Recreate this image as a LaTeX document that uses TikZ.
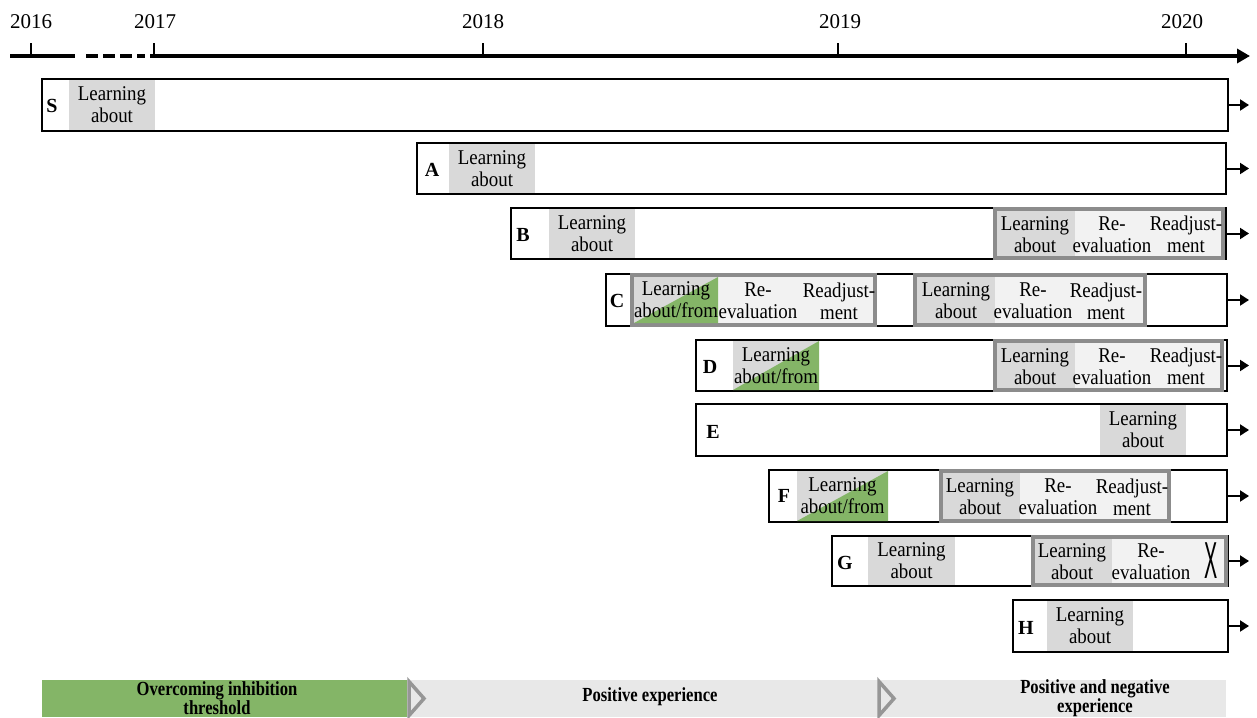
\documentclass[tikz,border=0pt]{standalone}
\usepackage{fontspec}
\setmainfont{Liberation Serif}
\newfontfamily\cellserif[FakeStretch=0.9]{Liberation Serif}
\newfontfamily\bandserif[FakeStretch=0.83]{Liberation Serif}
\newfontfamily\crossserif[FakeStretch=0.38]{Liberation Sans}
\usetikzlibrary{arrows.meta,fit}

\definecolor{cellgray}{RGB}{217,217,217}
\definecolor{celllight}{RGB}{242,242,242}
\definecolor{grpgray}{RGB}{140,140,140}
\definecolor{chevgray}{RGB}{150,150,150}
\definecolor{phasegreen}{RGB}{132,181,103}
\definecolor{phasegray}{RGB}{232,232,232}

\newcommand\cellsty{\cellserif\fontsize{21}{22}\selectfont}
\newcommand\bandsty{\bandserif\bfseries\fontsize{20}{19}\selectfont}

\tikzset{
  rowbox/.style={draw=black, line width=1.6pt, fill=white, inner sep=0pt, outer sep=0pt},
  rowlab/.style={font=\bfseries\fontsize{20}{20}\selectfont, inner sep=0pt},
  gcell/.style={fill=cellgray, inner sep=0pt, outer sep=0pt},
  dcell/.style={fill=cellgray, inner sep=0pt, outer sep=0pt,
    path picture={\fill[phasegreen] (path picture bounding box.north east)
      -- (path picture bounding box.south east)
      -- (path picture bounding box.south west) -- cycle;}},
  grp/.style={draw=grpgray, fill=celllight, line width=3.5pt, inner sep=0pt, outer sep=0pt},
  ctext/.style={align=center, font=\cellsty, inner sep=0pt},
  rowarrow/.style={line width=2pt, -{Triangle[length=9pt,width=11pt]}},
  axisline/.style={line width=4pt},
  tick/.style={line width=2.5pt},
  yearlab/.style={font=\fontsize{21}{21}\selectfont, inner sep=0pt},
  phase/.style={inner sep=0pt, outer sep=0pt},
  chev/.style={draw=chevgray, line width=3.5pt, line join=miter},
  bandtext/.style={align=center, font=\bandsty, inner sep=0pt},
}

\begin{document}
\begin{tikzpicture}[x=1pt,y=-1pt]
\useasboundingbox (0,0) rectangle (1257,717);

% time axis
\coordinate (ax0) at (10,56);
\coordinate (ax1) at (75,56);
\coordinate (ax2) at (86,56);
\coordinate (ax3) at (145,56);
\coordinate (ax4) at (150,56);
\coordinate (ax5) at (1250,56);
\draw[axisline] (ax0) -- (ax1);
\draw[axisline, dash pattern=on 12pt off 5pt] (ax2) -- (ax3);
\draw[axisline, -{Triangle[length=13pt,width=14pt]}] (ax4) -- (ax5);

\foreach \xx/\yr in {31/2016, 154/2017, 483/2018, 838/2019, 1186/2020}{
  \coordinate (t\yr) at (\xx,56);
  \coordinate (u\yr) at (\xx,43);
  \draw[tick] (t\yr) -- (u\yr);
}
\node[yearlab] (y2016) at (31,22) {2016};
\node[yearlab] (y2017) at (155,22) {2017};
\node[yearlab] (y2018) at (483,22) {2018};
\node[yearlab] (y2019) at (840,22) {2019};
\node[yearlab] (y2020) at (1182,22) {2020};

% row S
\node[rowbox, fit={(42,79) (1228,131)}] (S) {};
\node[rowlab] (Slab) at (52,106) {S};
\node[gcell, fit={(69,80) (155,130)}] (Sc1) {};
\node[ctext] (Sc1t) at (Sc1.center) {Learning\\about};

% row A
\node[rowbox, fit={(417,143) (1226,194)}] (A) {};
\node[rowlab] (Alab) at (432,170) {A};
\node[gcell, fit={(449,144) (535,193)}] (Ac1) {};
\node[ctext] (Ac1t) at (Ac1.center) {Learning\\about};

% row B
\node[rowbox, fit={(511,208) (1226,259)}] (B) {};
\node[rowlab] (Blab) at (523,235) {B};
\node[gcell, fit={(549,209) (635,258)}] (Bc1) {};
\node[ctext] (Bc1t) at (Bc1.center) {Learning\\about};
\node[grp, fit={(995,209) (1223,258)}] (Bg) {};
\node[gcell, fit={(997,211) (1075,256)}] (Bg1) {};
\node[ctext] (Bg1t) at (1035,234.5) {Learning\\about};
\node[ctext] (Bg2) at (1112,234.5) {Re-\\evaluation};
\node[ctext] (Bg3) at (1186,234.5) {Readjust-\\ment};

% row C
\node[rowbox, fit={(606,274) (1227,326)}] (C) {};
\node[rowlab] (Clab) at (617,301) {C};
\node[grp, fit={(632,275) (875,325)}] (Cg) {};
\node[dcell, fit={(634,277) (718,323)}] (Cg1) {};
\node[ctext] (Cg1t) at (Cg1.center) {Learning\\about/from};
\node[ctext] (Cg2) at (758,301) {Re-\\evaluation};
\node[ctext] (Cg3) at (839,301) {Readjust-\\ment};
\node[grp, fit={(915,275) (1145,325)}] (Ch) {};
\node[gcell, fit={(917,277) (995,323)}] (Ch1) {};
\node[ctext] (Ch1t) at (956,301) {Learning\\about};
\node[ctext] (Ch2) at (1033,301) {Re-\\evaluation};
\node[ctext] (Ch3) at (1106,301) {Readjust-\\ment};

% row D
\node[rowbox, fit={(696,340) (1227,391)}] (D) {};
\node[rowlab] (Dlab) at (710,367) {D};
\node[dcell, fit={(733,341) (819,390)}] (Dc1) {};
\node[ctext] (Dc1t) at (Dc1.center) {Learning\\about/from};
\node[grp, fit={(995,341) (1222,390)}] (Dg) {};
\node[gcell, fit={(997,343) (1075,388)}] (Dg1) {};
\node[ctext] (Dg1t) at (1035,366.5) {Learning\\about};
\node[ctext] (Dg2) at (1112,366.5) {Re-\\evaluation};
\node[ctext] (Dg3) at (1186,366.5) {Readjust-\\ment};

% row E
\node[rowbox, fit={(696,404) (1227,456)}] (E) {};
\node[rowlab] (Elab) at (713,432) {E};
\node[gcell, fit={(1100,405) (1186,455)}] (Ec1) {};
\node[ctext] (Ec1t) at (Ec1.center) {Learning\\about};

% row F
\node[rowbox, fit={(769,470) (1227,522)}] (F) {};
\node[rowlab] (Flab) at (784,496) {F};
\node[dcell, fit={(797,471) (888,521)}] (Fc1) {};
\node[ctext] (Fc1t) at (Fc1.center) {Learning\\about/from};
\node[grp, fit={(941,471) (1169,521)}] (Fg) {};
\node[gcell, fit={(943,473) (1020,519)}] (Fg1) {};
\node[ctext] (Fg1t) at (980,497) {Learning\\about};
\node[ctext] (Fg2) at (1058,497) {Re-\\evaluation};
\node[ctext] (Fg3) at (1132,497) {Readjust-\\ment};

% row G
\node[rowbox, fit={(832,536) (1228,586)}] (G) {};
\node[rowlab] (Glab) at (845,563) {G};
\node[gcell, fit={(868,537) (955,585)}] (Gc1) {};
\node[ctext] (Gc1t) at (Gc1.center) {Learning\\about};
\node[grp, fit={(1033,537) (1226,585)}] (Gg) {};
\node[gcell, fit={(1035,539) (1112,583)}] (Gg1) {};
\node[ctext] (Gg1t) at (1072,562) {Learning\\about};
\node[ctext] (Gg2) at (1151,562) {Re-\\evaluation};
\node[inner sep=0pt, font=\crossserif\fontsize{52}{52}\selectfont] (Gx) at (1211,561) {X};

% row H
\node[rowbox, fit={(1013,600) (1228,652)}] (H) {};
\node[rowlab] (Hlab) at (1026,628) {H};
\node[gcell, fit={(1047,601) (1133,651)}] (Hc1) {};
\node[ctext] (Hc1t) at (Hc1.center) {Learning\\about};

% continuation arrows
\foreach \r/\yy in {S/105,A/168.5,B/233.5,C/300,D/365.5,E/430,F/496,G/561,H/626}{
  \coordinate (\r end) at (1249,\yy);
  \draw[rowarrow] (\r.east) -- (\r end);
}

% phases
\node[phase, fill=phasegreen, fit={(42,680) (407,717)}] (P1) {};
\node[phase, fill=phasegray, fit={(407,680) (1226,717)}] (P2) {};
\draw[chev] (409,681.5) -- (424,698.5) -- (409,715.5) -- cycle;
\draw[chev] (879,681.5) -- (894,698.5) -- (879,715.5) -- cycle;
\node[bandtext] (P1t) at (217,698.5) {Overcoming inhibition\\threshold};
\node[bandtext] (P2t) at (650,697) {Positive experience};
\node[bandtext] (P3t) at (1095,698.5) {Positive and negative\\experience};
\end{tikzpicture}
\end{document}
